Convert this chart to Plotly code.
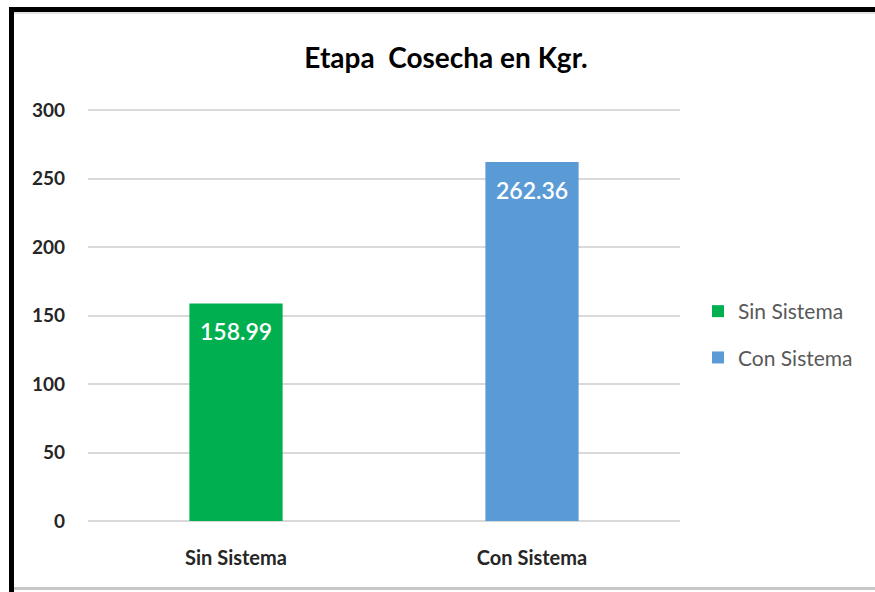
import plotly.graph_objects as go

# Harvest-stage weight, kg
categories = ["Sin Sistema", "Con Sistema"]
values = [158.99, 262.36]
colors = ["#00B050", "#5B9BD5"]
y_ticks = [0, 50, 100, 150, 200, 250, 300]

W, H = 875, 592
L, R, T, B = 88, 680, 109, 521  # plot area in pixels
Y_MAX = 301

def px(x):
    return (x - L) / (R - L)

def py(y):
    return 1 - (y - T) / (B - T)

fig = go.Figure()
for i, (cat, val, col) in enumerate(zip(categories, values, colors)):
    fig.add_trace(go.Bar(
        x=[cat], y=[val], name=cat,
        marker=dict(color=col, line=dict(width=0)),
        width=0.315,
        legendgroup=f"g{i}",
        hoverinfo="x+y",
    ))
    # value label just inside the top of each bar
    fig.add_annotation(
        x=cat, y=val, xref="x", yref="y",
        text=f"{val:.2f}", showarrow=False,
        yanchor="top", yshift=-12,
        font=dict(family="Lato", size=23, color="white", weight=600),
    )

# chart frame: heavy black top/left edges, thin grey bottom edge
frame = [
    dict(x0=px(9), x1=px(W + 5), y0=py(7), y1=py(12), fill="black"),
    dict(x0=px(9), x1=px(14), y0=py(7), y1=py(H + 5), fill="black"),
    dict(x0=px(14), x1=px(W + 5), y0=py(12), y1=py(14), fill="#E3E3E3"),
    dict(x0=px(14), x1=px(W + 5), y0=py(587), y1=py(590), fill="#C8C8C8"),
]
for s in frame:
    fig.add_shape(type="rect", xref="paper", yref="paper",
                  x0=s["x0"], x1=s["x1"], y0=s["y0"], y1=s["y1"],
                  fillcolor=s["fill"], line=dict(width=0), layer="above")

fig.update_layout(
    width=W, height=H,
    margin=dict(l=L, r=W - R, t=T, b=H - B, pad=0),
    paper_bgcolor="white", plot_bgcolor="white",
    barmode="overlay",
    title=dict(text="<b>Etapa  Cosecha en Kgr.</b>", x=446 / W, xanchor="center",
               y=1 - 58 / H, yanchor="middle",
               font=dict(family="Lato", size=28, color="black")),
    font=dict(family="Lato"),
    showlegend=True,
    legend=dict(x=px(698), xanchor="left", y=py(291), yanchor="top",
                font=dict(family="Lato", size=21, color="#595959"),
                traceorder="grouped", tracegroupgap=16,
                itemwidth=30, bgcolor="rgba(0,0,0,0)"),
    xaxis=dict(showline=False, showgrid=False, ticks="",
               tickvals=categories,
               ticktext=[f"<b>{c}</b>" for c in categories],
               tickfont=dict(family="Lato", size=20, color="#262626"),
               ticklabelstandoff=23, range=[-0.5, 1.5]),
    yaxis=dict(range=[0, Y_MAX], tickvals=y_ticks,
               ticktext=[f"<b>{v}</b>" for v in y_ticks],
               showgrid=True, gridcolor="#D9D9D9", gridwidth=1.5,
               zeroline=True, zerolinecolor="#D9D9D9", zerolinewidth=1.5,
               showline=False, ticks="",
               tickfont=dict(family="Lato", size=19, color="#262626"),
               ticklabelstandoff=22),
)

fig.write_html("out.html")
